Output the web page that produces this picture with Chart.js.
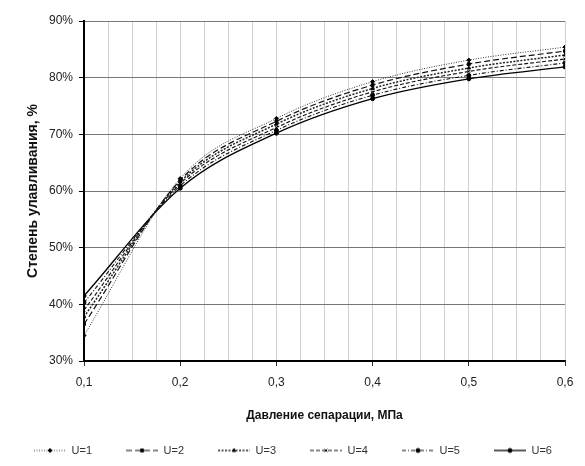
<!DOCTYPE html>
<html>
<head>
<meta charset="utf-8">
<script src="https://cdn.jsdelivr.net/npm/chart.js@4.4.1/dist/chart.umd.min.js"></script>
<style>
  body { margin: 0; background: #fff; }
  #wrap { width: 585px; height: 466px; }
</style>
</head>
<body>
<div id="wrap"><canvas id="chart" width="585" height="466"></canvas></div>
<script>
// separation pressure, MPa
const pressure = [0.1, 0.2, 0.3, 0.4, 0.5, 0.6];

// capture degree, %
const u1 = [34.5, 62.2, 72.8, 79.3, 83.1, 85.4];
const u2 = [36.5, 61.9, 72.3, 78.7, 82.4, 84.7];
const u3 = [37.8, 61.6, 71.8, 78.1, 81.7, 84.0];
const u4 = [39.0, 61.3, 71.2, 77.5, 81.1, 83.3];
const u5 = [40.3, 60.9, 70.7, 76.9, 80.4, 82.6];
const u6 = [41.5, 60.5, 70.2, 76.3, 79.8, 81.9];

const seriesNames = ["U=1", "U=2", "U=3", "U=4", "U=5", "U=6"];
const xTitle = "Давление сепарации, МПа";
const yTitle = "Степень улавливания, %";

const FONT = "'Liberation Sans', Arial, sans-serif";

// line look for each series
const styles = [
  { dash: [1, 1.5], width: 1, marker: "rectRot", color: "#333" },
  { dash: [6, 3], width: 1.2, marker: "rect", color: "#111" },
  { dash: [2, 1.5], width: 1.5, marker: "triangle", color: "#222" },
  { dash: [4, 2], width: 1.1, marker: "crossRot", color: "#111" },
  { dash: [4, 2, 1, 2], width: 1.1, marker: "circle", color: "#111" },
  { dash: [], width: 1.3, marker: "circle", color: "#000" },
];

const allValues = [u1, u2, u3, u4, u5, u6];

const datasets = allValues.map((vals, i) => {
  const s = styles[i];
  return {
    label: seriesNames[i],
    data: pressure.map((p, k) => ({ x: p, y: vals[k] })),
    borderColor: s.color,
    borderWidth: s.width,
    borderDash: s.dash,
    backgroundColor: s.color,
    pointStyle: s.marker,
    pointRadius: 2,
    pointBorderWidth: 1,
    pointBackgroundColor: "#000",
    pointBorderColor: "#000",
    cubicInterpolationMode: "monotone",
    fill: false,
  };
});

// small canvas with dashed line + marker, used as legend symbol
function legendIcon(ds) {
  const c = document.createElement("canvas");
  c.width = 53;
  c.height = 10;
  const g = c.getContext("2d");
  g.strokeStyle = ds.borderColor;
  g.lineWidth = ds.borderWidth;
  g.setLineDash(ds.borderDash);
  g.beginPath();
  g.moveTo(21, 5);
  g.lineTo(53, 5);
  g.stroke();
  g.setLineDash([]);
  g.fillStyle = "#000";
  g.strokeStyle = "#000";
  g.lineWidth = 1;
  Chart.helpers.drawPoint(g, { pointStyle: ds.pointStyle, radius: 2, borderWidth: 1 }, 37, 5);
  return c;
}

const ctx = document.getElementById("chart").getContext("2d");

const chart = new Chart(ctx, {
  type: "line",
  data: { datasets: datasets },
  options: {
    responsive: false,
    animation: false,
    layout: { padding: { top: 21, right: 20, bottom: 0, left: 0 } },
    scales: {
      x: {
        type: "linear",
        min: 0.1,
        max: 0.6,
        afterFit: (scale) => { scale.height = 71; },
        ticks: {
          stepSize: 0.025,
          autoSkip: false,
          maxRotation: 0,
          padding: 9,
          color: "#222",
          font: { family: FONT, size: 12 },
          callback: (v) => {
            const t = v * 10;
            if (Math.abs(t - Math.round(t)) < 1e-6) {
              return (Math.round(t) / 10).toFixed(1).replace(".", ",");
            }
            return "";
          },
        },
        grid: {
          color: "#c4c4c4",
          lineWidth: 0.8,
          tickLength: 5,
          tickColor: (c) => {
            const t = c.tick ? c.tick.value * 10 : 0;
            return Math.abs(t - Math.round(t)) < 1e-6 ? "#000" : "rgba(0,0,0,0)";
          },
        },
        border: { color: "#000", width: 2 },
        title: {
          display: true,
          text: xTitle,
          color: "#111",
          font: { family: FONT, size: 12, weight: "bold" },
          padding: { top: 0, bottom: 9 },
        },
      },
      y: {
        min: 30,
        max: 90,
        afterFit: (scale) => { scale.width = 84; },
        ticks: {
          stepSize: 10,
          padding: 6,
          color: "#222",
          font: { family: FONT, size: 12 },
          callback: (v) => v + "%",
        },
        grid: {
          color: "#777",
          lineWidth: 1,
          tickLength: 5,
          tickColor: "#000",
        },
        border: { color: "#000", width: 2 },
        title: {
          display: true,
          text: yTitle,
          color: "#111",
          font: { family: FONT, size: 14, weight: "bold" },
          padding: { top: 25, bottom: 0 },
        },
      },
    },
    plugins: {
      tooltip: { enabled: false },
      legend: {
        position: "bottom",
        labels: {
          usePointStyle: true,
          pointStyleWidth: 53,
          padding: 13,
          color: "#333",
          font: { family: FONT, size: 11 },
          generateLabels: (ch) =>
            ch.data.datasets.map((ds, i) => ({
              text: ds.label,
              pointStyle: legendIcon(ds),
              fillStyle: "rgba(0,0,0,0)",
              strokeStyle: "rgba(0,0,0,0)",
              lineWidth: 0,
              hidden: false,
              datasetIndex: i,
              fontColor: "#333",
            })),
        },
      },
    },
  },
});
</script>
</body>
</html>
